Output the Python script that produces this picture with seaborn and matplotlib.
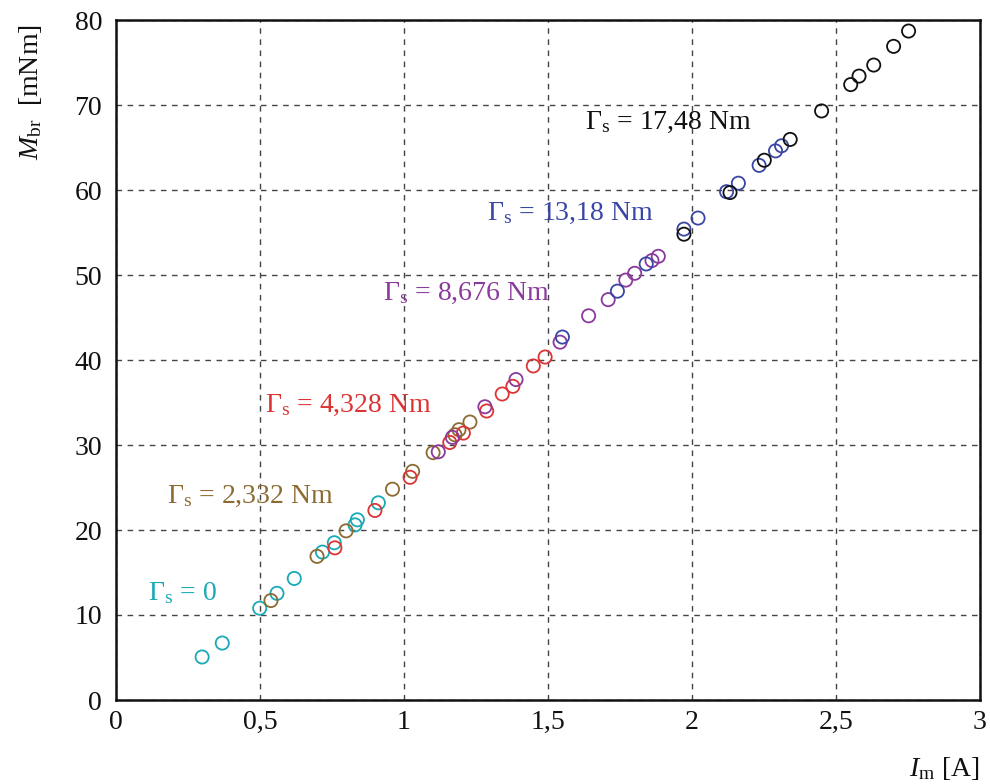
import matplotlib
matplotlib.use("Agg")
import matplotlib.pyplot as plt
import seaborn as sns
import pandas as pd

# ---- data ----
series_labels = ["0", "2,332", "4,328", "8,676", "13,18", "17,48"]
series_colors = ["#1aa9b6", "#8c6a32", "#dc3434", "#8a3a9c", "#3a46a4", "#111111"]

im_0 = [0.299, 0.369, 0.499, 0.559, 0.619, 0.717, 0.758, 0.830, 0.838, 0.911]
mb_0 = [5.06, 6.7, 10.8, 12.55, 14.3, 17.4, 18.5, 20.6, 21.2, 23.2]

im_1 = [0.538, 0.698, 0.799, 0.960, 1.030, 1.101, 1.177, 1.191, 1.229]
mb_1 = [11.7, 16.9, 19.9, 24.8, 26.9, 29.1, 31.2, 31.8, 32.7]

im_2 = [0.760, 0.899, 1.021, 1.159, 1.206, 1.287, 1.341, 1.378, 1.449, 1.490]
mb_2 = [17.9, 22.3, 26.2, 30.3, 31.4, 34.0, 36.0, 36.9, 39.3, 40.35]

im_3 = [1.119, 1.168, 1.281, 1.389, 1.542, 1.641, 1.709, 1.770, 1.801, 1.861, 1.883]
mb_3 = [29.2, 30.9, 34.5, 37.7, 42.1, 45.2, 47.1, 49.4, 50.2, 51.7, 52.2]

im_4 = [1.550, 1.741, 1.841, 1.972, 2.021, 2.120, 2.161, 2.233, 2.290, 2.311]
mb_4 = [42.7, 48.1, 51.3, 55.4, 56.7, 59.8, 60.8, 62.9, 64.6, 65.2]

im_5 = [1.972, 2.132, 2.251, 2.341, 2.450, 2.551, 2.580, 2.631, 2.700, 2.752]
mb_5 = [54.8, 59.7, 63.5, 65.95, 69.3, 72.4, 73.4, 74.7, 76.9, 78.7]

xticks = [0, 0.5, 1, 1.5, 2, 2.5, 3]
xticklabels = ["0", "0,5", "1", "1,5", "2", "2,5", "3"]
yticks = [0, 10, 20, 30, 40, 50, 60, 70, 80]

# label anchor positions (left edge, vertical centre) in data coords
label_x = [0.111, 0.177, 0.517, 0.927, 1.288, 1.628]
label_y = [12.6, 23.9, 34.6, 47.8, 57.2, 67.9]

# ---- build table ----
ims = [im_0, im_1, im_2, im_3, im_4, im_5]
mbs = [mb_0, mb_1, mb_2, mb_3, mb_4, mb_5]
rows = []
for lab, xs, ys in zip(series_labels, ims, mbs):
    for x, y in zip(xs, ys):
        rows.append({"Im": x, "Mbr": y, "series": lab})
df = pd.DataFrame(rows)

sns.set_theme(style="white")
plt.rcParams["font.family"] = ["Liberation Serif", "DejaVu Serif"]
plt.rcParams["mathtext.fontset"] = "custom"
plt.rcParams["mathtext.rm"] = "Liberation Serif"
plt.rcParams["mathtext.it"] = "Liberation Serif:italic"
plt.rcParams["mathtext.bf"] = "Liberation Serif:bold"

FS = 20

fig = plt.figure(figsize=(9.9, 7.84), dpi=100)
ax = fig.add_axes([116 / 990, 84 / 784, 864 / 990, 680 / 784])

palette = dict(zip(series_labels, series_colors))
sns.scatterplot(data=df, x="Im", y="Mbr", hue="series", palette=palette,
                hue_order=series_labels, s=90, marker="o", linewidth=1.3,
                legend=False, ax=ax, zorder=3)
coll = ax.collections[0]
fcs = coll.get_facecolors()
coll.set_edgecolors(fcs)
coll.set_facecolors("none")

ax.set_xlim(0, 3)
ax.set_ylim(0, 80)
ax.set_xticks(xticks)
ax.set_xticklabels(xticklabels)
ax.set_yticks(yticks)
ax.tick_params(axis="both", length=0, labelsize=FS, colors="#111111")
ax.tick_params(axis="x", pad=7)
ax.tick_params(axis="y", pad=10)
ax.grid(True, color="#444444", linestyle=(0, (4, 4)), linewidth=1.0)
ax.set_axisbelow(True)
for sp in ax.spines.values():
    sp.set_color("#111111")
    sp.set_linewidth(1.8)
ax.set_xlabel("")
ax.set_ylabel("")

for lab, col, lx, ly in zip(series_labels, series_colors, label_x, label_y):
    txt = r"$\Gamma_{\rm s}$ = " + lab + ("" if lab == "0" else " Nm")
    ax.text(lx, ly, txt, color=col, fontsize=FS, ha="left", va="center", zorder=4)

fig.text(30 / 990, 1 - 92 / 784, r"$M_{\rm br}$  [mNm]", rotation=90,
         ha="center", va="center", fontsize=FS, color="#111111")
fig.text(944 / 990, 1 - 768 / 784, r"$I_{\rm m}$ [A]",
         ha="center", va="center", fontsize=FS, color="#111111")

fig.savefig("out.png", dpi=100)
